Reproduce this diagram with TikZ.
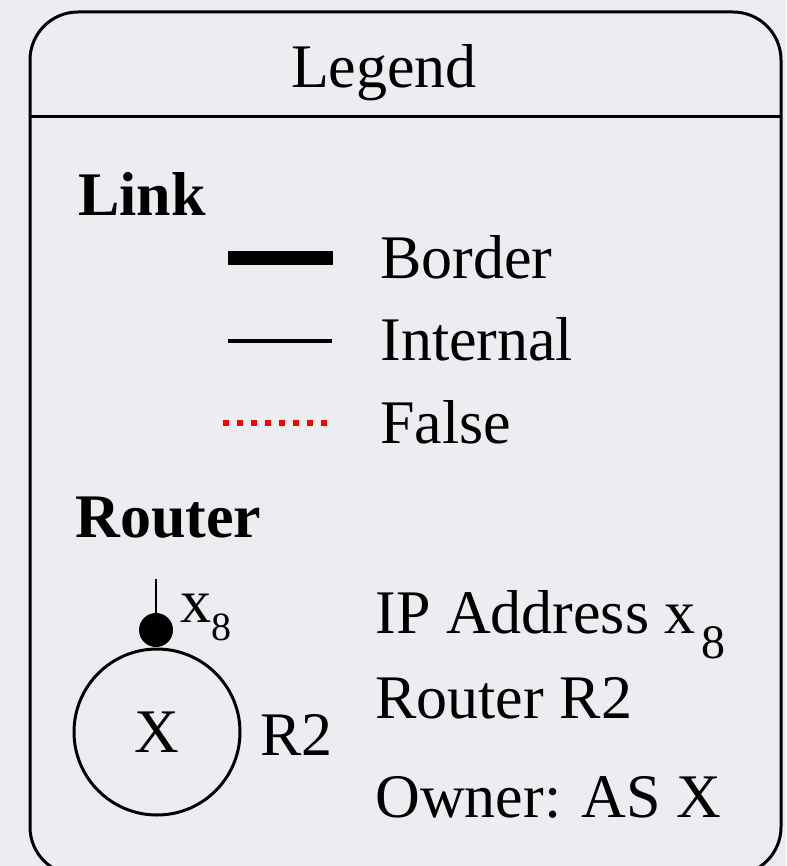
\documentclass[tikz,border=0pt]{standalone}
\usepackage{fontspec}
\setmainfont{LiberationSerif}[Extension=.ttf, UprightFont=*-Regular, BoldFont=*-Bold]
\definecolor{bgcol}{RGB}{236,237,241}
\begin{document}
\begin{tikzpicture}[
        x=0.5pt, y=-0.5pt, % one unit = one pixel, y grows downwards
        txt/.style={inner sep=0, anchor=base west, font=\rmfamily\fontsize{31}{36}\selectfont},
        head/.style={txt, font=\rmfamily\fontsize{31}{36}\selectfont\bfseries}, % section titles
        frame/.style={draw, line width=1.5pt, rounded corners=24pt},
        borderlink/.style={line width=7pt},
        internallink/.style={line width=2.2pt},
        falselink/.style={draw=red, line width=3pt, dash pattern=on 3pt off 4pt},
        router/.style={circle, draw, line width=1.5pt, minimum size=83pt, inner sep=0, font=\rmfamily\fontsize{31}{36}\selectfont},
        ipdot/.style={circle, fill, inner sep=0, minimum size=17pt},
    ]

    \fill[bgcol] (0,0) rectangle (786,866);
    \useasboundingbox (0,0) rectangle (786,866);
    \clip (0,0) rectangle (786,866);

    % frame and header
    \draw[frame] (30,12) rectangle (781,875);
    \coordinate (hl) at (30,117);
    \coordinate (hr) at (781,117);
    \draw[line width=1.5pt] (hl) -- (hr);
    \node[inner sep=0, anchor=base, font=\rmfamily\fontsize{31}{36}\selectfont] (title) at (384,88) {Legend};

    % links
    \node[head] (link) at (78,215) {Link};
    \coordinate (b1) at (228,258);
    \coordinate (b2) at (333,258);
    \draw[borderlink] (b1) -- (b2);
    \node[txt] (border) at (380,278) {Border};
    \coordinate (i1) at (228,341);
    \coordinate (i2) at (332,341);
    \draw[internallink] (i1) -- (i2);
    \node[txt] (internal) at (380,360) {Internal};
    \coordinate (f1) at (223,423);
    \coordinate (f2) at (329,423);
    \draw[falselink] (f1) -- (f2);
    \node[txt] (false) at (380,443) {False};

    % router
    \node[head] (rhead) at (75,537) {Router};
    \node[router] (rtr) at (157,732) {X};
    \node[ipdot] (ip) at (156,630) {};
    \coordinate (stem) at (156,579);
    \draw[line width=1pt] (stem) -- (ip.center);
    \node[txt] (iplbl) at (180,622) {x\raisebox{-9pt}{\fontsize{20}{20}\selectfont 8}};
    \node[txt] (rname) at (260,755) {R2};
    \node[txt] (ipaddr) at (375,633) {IP Address x\kern3pt\raisebox{-12.5pt}{\fontsize{24}{24}\selectfont 8}};
    \node[txt] (rrouter) at (375,718) {Router R2};
    \node[txt] (owner) at (375,817) {Owner: AS X};
\end{tikzpicture}
\end{document}
